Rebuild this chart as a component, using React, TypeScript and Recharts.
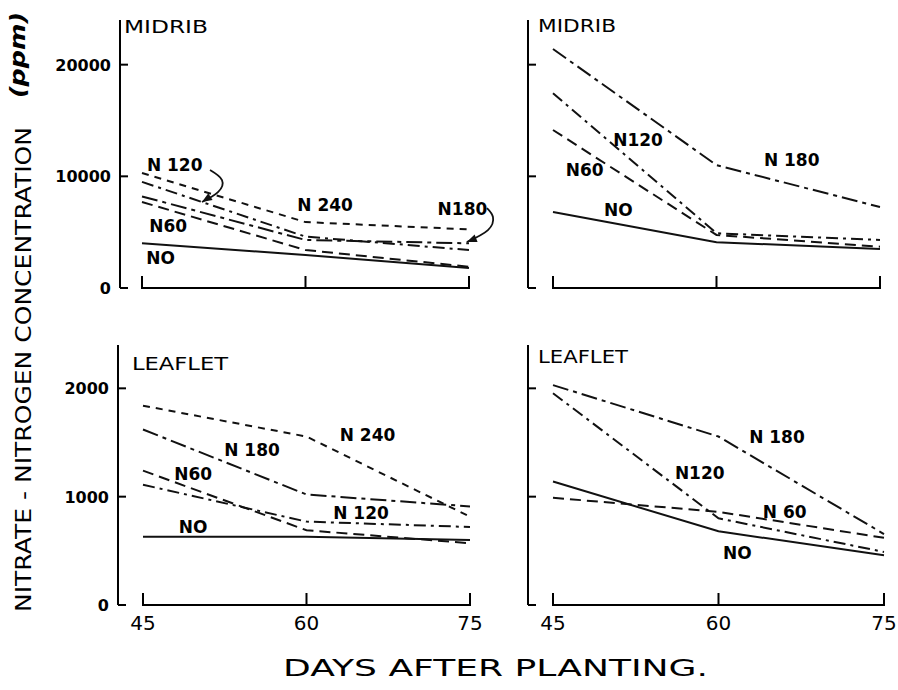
import React from 'react';
import { LineChart, Line, XAxis, YAxis, ReferenceDot, ReferenceLine } from 'recharts';

const days = [45, 60, 75];
const xTicks = [45, 60, 75];
const midribTicks = [0, 10000, 20000];
const leafletTicks = [0, 1000, 2000];

// MIDRIB, left panel (ppm)
const midribL_N0 = [4000, 2950, 1800];
const midribL_N60 = [7700, 3400, 1900];
const midribL_N120 = [9500, 4600, 3400];
const midribL_N180 = [8200, 4300, 4000];
const midribL_N240 = [10300, 5900, 5250];

// MIDRIB, right panel
const midribR_N0 = [6800, 4100, 3500];
const midribR_N60 = [14150, 4750, 3700];
const midribR_N120 = [17450, 4900, 4300];
const midribR_N180 = [21400, 11000, 7250];

// LEAFLET, left panel
const leafletL_N0 = [630, 630, 600];
const leafletL_N60 = [1240, 690, 570];
const leafletL_N120 = [1110, 770, 720];
const leafletL_N180 = [1620, 1020, 910];
const leafletL_N240 = [1840, 1555, 815];

// LEAFLET, right panel
const leafletR_N0 = [1140, 680, 460];
const leafletR_N60 = [990, 860, 620];
const leafletR_N120 = [1955, 800, 490];
const leafletR_N180 = [2030, 1555, 655];

// line annotations (day, value)
const midribL_labels = [
  { text: 'N 120', day: 48.0, v: 11000 },
  { text: 'N60', day: 47.4, v: 5550 },
  { text: 'NO', day: 46.7, v: 2700 },
  { text: 'N 240', day: 61.8, v: 7430 },
  { text: 'N180', day: 74.4, v: 7100 },
];
const midribR_labels = [
  { text: 'N120', day: 52.8, v: 13250 },
  { text: 'N60', day: 47.9, v: 10560 },
  { text: 'NO', day: 51.0, v: 6980 },
  { text: 'N 180', day: 66.9, v: 11460 },
];
const leafletL_labels = [
  { text: 'N 240', day: 65.6, v: 1570 },
  { text: 'N 180', day: 55.0, v: 1430 },
  { text: 'N60', day: 49.6, v: 1210 },
  { text: 'N 120', day: 65.0, v: 850 },
  { text: 'NO', day: 49.6, v: 720 },
];
const leafletR_labels = [
  { text: 'N 180', day: 65.3, v: 1550 },
  { text: 'N120', day: 58.3, v: 1220 },
  { text: 'N 60', day: 66.0, v: 860 },
  { text: 'NO', day: 61.7, v: 480 },
];

// curved pointer arrows (day, value)
const midribL_arrow120 = [
  { day: 51.24, v: 10560 },
  { day: 52.34, v: 9670 },
  { day: 51.97, v: 8590 },
  { day: 50.5, v: 7700 },
];
const midribL_arrow180 = [
  { day: 76.65, v: 7160 },
  { day: 77.2, v: 6360 },
  { day: 76.74, v: 5190 },
  { day: 74.8, v: 4120 },
];

const DASH: Record<string, string | undefined> = {
  N0: undefined,
  N60: '11 6',
  N120: '12 5 3 5',
  N180: '16 5 4 5',
  N240: '7 6',
};

const FONT = '"DejaVu Sans", sans-serif';
const X_MAX = 78;

function buildRows(series: Record<string, number[]>) {
  return days.map((d, i) => {
    const row: Record<string, number> = { day: d };
    Object.keys(series).forEach((k) => (row[k] = series[k][i]));
    return row;
  });
}

const XTick = (p: any) => {
  const { x, y, payload, showLabel } = p;
  return (
    <g>
      <line x1={x} x2={x} y1={y + 1} y2={y - 12} stroke="#000" strokeWidth={2} />
      {showLabel && (
        <text x={x} y={y + 25} textAnchor="middle" fontSize={20} fontFamily={FONT} fill="#000">
          {payload.value}
        </text>
      )}
    </g>
  );
};

const YTick = (p: any) => {
  const { x, y, payload, showLabel } = p;
  return (
    <g>
      <line x1={x} x2={x + 8} y1={y} y2={y} stroke="#000" strokeWidth={2} />
      {showLabel && (
        <text x={x - 9} y={y + 6} textAnchor="end" fontSize={16} fontWeight="bold" fontFamily={FONT} fill="#000">
          {payload.value}
        </text>
      )}
    </g>
  );
};

function arrowHead(cx: number, cy: number, ang: number) {
  const dx = Math.cos(ang), dy = Math.sin(ang);
  const bx = cx - dx * 10, by = cy - dy * 10;
  const px = -dy * 4, py = dx * 4;
  return `M${cx},${cy} L${bx + px},${by + py} L${bx - px},${by - py} Z`;
}

type Geo = { yAxisX: number; x45: number; x75: number; plotTop: number; plotBottom: number };

function Panel(props: {
  geo: Geo;
  series: Record<string, number[]>;
  labels: { text: string; day: number; v: number }[];
  arrows?: { pts: { day: number; v: number }[]; ang: number }[];
  yTicks: number[];
  yMax: number;
  showYLabels: boolean;
  showXLabels: boolean;
}) {
  const { geo, series, labels, arrows = [], yTicks, yMax, showYLabels, showXLabels } = props;
  const rows = buildRows(series);
  const padLeft = geo.x45 - geo.yAxisX;
  const pxPerDay = (geo.x75 - geo.x45) / 30;
  const plotW = padLeft + pxPerDay * (X_MAX - 45);
  const width = 100 + plotW + 4;
  const height = 20 + (geo.plotBottom - geo.plotTop) + 40 + 2;
  return (
    <div style={{ position: 'absolute', left: geo.yAxisX - 100, top: geo.plotTop - 20 }}>
      <LineChart width={width} height={height} data={rows} margin={{ top: 20, right: 4, bottom: 2, left: 60 }}>
        <XAxis
          type="number"
          dataKey="day"
          domain={[45, X_MAX]}
          ticks={xTicks}
          interval={0}
          axisLine={false}
          tickLine={false}
          tickSize={0}
          tickMargin={0}
          height={40}
          padding={{ left: padLeft, right: 0 }}
          tick={(tp: any) => <XTick {...tp} showLabel={showXLabels} />}
        />
        <YAxis
          type="number"
          domain={[0, yMax]}
          ticks={yTicks}
          interval={0}
          width={40}
          tickLine={false}
          tickSize={0}
          tickMargin={0}
          axisLine={{ stroke: '#000', strokeWidth: 2 }}
          tick={(tp: any) => <YTick {...tp} showLabel={showYLabels} />}
        />
        <ReferenceLine
          segment={[{ x: 45, y: 0 }, { x: 75, y: 0 }]}
          stroke="#000"
          strokeWidth={2}
        />
        {Object.keys(series).map((k) => (
          <Line
            key={k}
            dataKey={k}
            type="linear"
            stroke="#111"
            strokeWidth={2}
            strokeDasharray={DASH[k]}
            dot={false}
            activeDot={false}
            isAnimationActive={false}
          />
        ))}
        {arrows.map((a, ai) => (
          <Line
            key={'arrow' + ai}
            data={a.pts}
            dataKey="v"
            type="natural"
            stroke="#111"
            strokeWidth={1.8}
            activeDot={false}
            isAnimationActive={false}
            dot={(dp: any) =>
              dp.index === a.pts.length - 1 ? (
                <path key={'h' + dp.index} d={arrowHead(dp.cx, dp.cy, a.ang)} fill="#111" />
              ) : (
                <g key={'h' + dp.index} />
              )
            }
          />
        ))}
        {labels.map((l, li) => (
          <ReferenceDot
            key={'lab' + li}
            x={l.day}
            y={l.v}
            r={0}
            shape={(sp: any) => (
              <text
                x={sp.cx}
                y={sp.cy + 6}
                textAnchor="middle"
                fontSize={17}
                fontWeight="bold"
                fontFamily={FONT}
                fill="#000"
              >
                {l.text}
              </text>
            )}
          />
        ))}
      </LineChart>
    </div>
  );
}

export default function App() {
  return (
    <div style={{ position: 'absolute', left: 0, top: 0, width: 898, height: 690, background: '#fff', overflow: 'hidden' }}>
      <svg width={898} height={690} style={{ position: 'absolute', left: 0, top: 0 }}>
        <g fontFamily={FONT} fill="#000">
          <text transform="translate(31, 612) rotate(-90)" fontSize={22} textLength={485} lengthAdjust="spacingAndGlyphs">
            NITRATE - NITROGEN CONCENTRATION
          </text>
          <text transform="translate(25, 98) rotate(-90)" fontSize={21} fontWeight="bold" fontStyle="italic" textLength={86} lengthAdjust="spacingAndGlyphs">
            (ppm)
          </text>
          <text x={283} y={676} fontSize={23} textLength={425} lengthAdjust="spacingAndGlyphs">
            DAYS AFTER PLANTING.
          </text>
          <text x={124} y={33} fontSize={18} textLength={84} lengthAdjust="spacingAndGlyphs">MIDRIB</text>
          <text x={538} y={32} fontSize={18} textLength={78} lengthAdjust="spacingAndGlyphs">MIDRIB</text>
          <text x={132} y={370} fontSize={18} textLength={96} lengthAdjust="spacingAndGlyphs">LEAFLET</text>
          <text x={538} y={363} fontSize={18} textLength={90} lengthAdjust="spacingAndGlyphs">LEAFLET</text>
        </g>
      </svg>
      <Panel
        geo={{ yAxisX: 120, x45: 142, x75: 469, plotTop: 20, plotBottom: 288 }}
        series={{ N0: midribL_N0, N60: midribL_N60, N120: midribL_N120, N180: midribL_N180, N240: midribL_N240 }}
        labels={midribL_labels}
        arrows={[
          { pts: midribL_arrow120, ang: Math.atan2(10, -16) },
          { pts: midribL_arrow180, ang: Math.atan2(8, -20) },
        ]}
        yTicks={midribTicks}
        yMax={24000}
        showYLabels={true}
        showXLabels={false}
      />
      <Panel
        geo={{ yAxisX: 528, x45: 553, x75: 880, plotTop: 20, plotBottom: 288 }}
        series={{ N0: midribR_N0, N60: midribR_N60, N120: midribR_N120, N180: midribR_N180 }}
        labels={midribR_labels}
        yTicks={midribTicks}
        yMax={24000}
        showYLabels={false}
        showXLabels={false}
      />
      <Panel
        geo={{ yAxisX: 118, x45: 143, x75: 470, plotTop: 345, plotBottom: 605 }}
        series={{ N0: leafletL_N0, N60: leafletL_N60, N120: leafletL_N120, N180: leafletL_N180, N240: leafletL_N240 }}
        labels={leafletL_labels}
        yTicks={leafletTicks}
        yMax={2400}
        showYLabels={true}
        showXLabels={true}
      />
      <Panel
        geo={{ yAxisX: 528, x45: 553, x75: 884, plotTop: 345, plotBottom: 605 }}
        series={{ N0: leafletR_N0, N60: leafletR_N60, N120: leafletR_N120, N180: leafletR_N180 }}
        labels={leafletR_labels}
        yTicks={leafletTicks}
        yMax={2400}
        showYLabels={false}
        showXLabels={true}
      />
    </div>
  );
}
